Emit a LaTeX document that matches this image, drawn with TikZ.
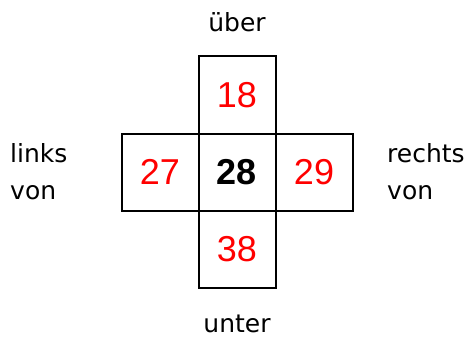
\documentclass[tikz,border=0pt]{standalone}
\usepackage{fontspec}
\setmainfont{Liberation Sans}
\newfontfamily\lblfont{DejaVu Sans}
\usetikzlibrary{positioning}

\tikzset{
  feld/.style={draw,line width=2pt,minimum size=77pt,inner sep=0pt,outer sep=0pt,
    font=\fontsize{36}{36}\selectfont,text=red},
  lbl/.style={inner sep=0pt,align=left,font=\lblfont\fontsize{25}{37}\selectfont}
}

\begin{document}
\begin{tikzpicture}[x=1pt,y=1pt]
  \useasboundingbox (0,0) rectangle (470,338);

  % the five boxes
  \node[feld,text=black,font=\fontsize{36}{36}\selectfont\bfseries] (mitte) at (237,166) {28};
  \node[feld,above=0pt of mitte] (oben) {18};
  \node[feld,below=0pt of mitte] (unten) {38};
  \node[feld,left=0pt of mitte] (links) {27};
  \node[feld,right=0pt of mitte] (rechts) {29};

  % labels
  \node[lbl,anchor=base] (ueber) at (237,306) {über};
  \node[lbl,anchor=base] (unter) at (237,6) {unter};
  \node[lbl,anchor=west] (linksvon) at (10,166) {links\\von};
  \node[lbl,anchor=west] (rechtsvon) at (387,166) {rechts\\von};
\end{tikzpicture}
\end{document}
